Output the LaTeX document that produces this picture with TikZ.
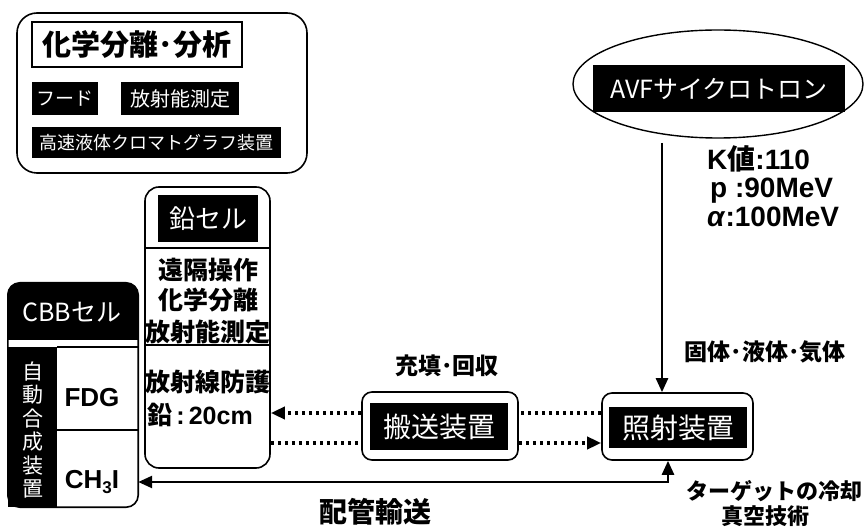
\documentclass[tikz,border=0pt]{standalone}
\usepackage{fontspec}
\setmainfont{Liberation Sans}
\newfontfamily\jp{Noto Sans CJK JP}
\usetikzlibrary{arrows.meta,shapes.geometric}
\newcommand\myfs[1]{\fontsize{#1}{#1}\selectfont}
\begin{document}
\begin{tikzpicture}[x=1pt,y=-1pt,
  box/.style={draw,line width=1.6pt,rounded corners=#1,fill=white,inner sep=0pt},
  blk/.style={fill=black,text=white,inner sep=0pt},
  lbl/.style={inner sep=0pt},
  dotl/.style={line width=3.5pt,dash pattern=on 3.5pt off 3.5pt},
  tip/.style={-{Triangle[length=14pt,width=12pt]}},
  thin/.style={line width=1.2pt}]
\useasboundingbox (0,0) rectangle (865,529);

% chemistry box
\node[box=20, minimum width=290, minimum height=160] (chem) at (162,93) {};
\node[draw, thin, fill=white, minimum width=210, minimum height=45, inner sep=0pt, font=\jp\bfseries\myfs{29}] (title) at (137,44.5) {化学分離･分析};
\node[blk, minimum width=66, minimum height=33, font=\jp\myfs{19}] (hood) at (65,98.5) {フード};
\node[blk, minimum width=118, minimum height=33, font=\jp\myfs{20}] (rad) at (180,98.5) {放射能測定};
\node[blk, minimum width=249, minimum height=31, font=\jp\myfs{18}] (hplc) at (156.5,142.5) {高速液体クロマトグラフ装置};

% cyclotron
\node[draw, ellipse, line width=1.4pt, minimum width=290, minimum height=108, inner sep=0pt] (cyc) at (718,84) {};
\node[blk, minimum width=252, minimum height=47, font=\jp\myfs{25}] (avf) at (719,88.5) {AVFサイクロトロン};
\node[lbl, anchor=base west, font=\bfseries\myfs{28}] (kv) at (707,170) {K{\jp 値}:110};
\node[lbl, anchor=base west, font=\bfseries\myfs{28}] (pv) at (710,198) {p :90MeV};
\node[lbl, anchor=base west, font=\bfseries\myfs{28}] (av) at (707,227) {\textit{α}:100MeV};

% lead cell
\node[box=14, minimum width=125, minimum height=281] (lead) at (207.5,327.5) {};
\node[blk, minimum width=100, minimum height=47, font=\jp\myfs{26}] (leadh) at (208,218.5) {鉛セル};
\coordinate (d1) at (0,248);
\coordinate (d2) at (0,345);
\draw[thin] (lead.west |- d1) -- (lead.east |- d1);
\draw[thin] (lead.west |- d2) -- (lead.east |- d2);
\node[lbl, font=\jp\bfseries\myfs{25}] (l1) at (208,270) {遠隔操作};
\node[lbl, font=\jp\bfseries\myfs{25}] (l2) at (208,300) {化学分離};
\node[lbl, font=\jp\bfseries\myfs{25}] (l3) at (208,332) {放射能測定};
\node[lbl, font=\jp\bfseries\myfs{25}] (l4) at (208,382) {放射線防護};
\node[lbl, anchor=west, font=\bfseries\myfs{25}] (l5) at (147,415) {{\jp 鉛}\,:\,20cm};

% CBB cell
\node[minimum width=130, minimum height=224, inner sep=0pt] (cbb) at (73,395) {};
\begin{scope}
  \clip[rounded corners=12] (cbb.south west) rectangle (cbb.north east);
  \fill (8,283) rectangle (138,340);
\end{scope}
\fill (8,347) rectangle (57,507);
\draw[line width=1.6pt, rounded corners=12] (cbb.south west) rectangle (cbb.north east);
\draw[thin] (57,347) -- (138,347);
\draw[thin] (57,430) -- (138,430);
\node[lbl, text=white, font=\jp\myfs{25}] (cbbh) at (72,312) {CBBセル};
\node[lbl, text=white, align=center, font=\jp\fontsize{21}{23.5}\selectfont] (auto) at (33,430) {自\\動\\合\\成\\装\\置};
\node[lbl, font=\bfseries\myfs{26}] (fdg) at (92,398) {FDG};
\node[lbl, font=\bfseries\myfs{26}] (ch3i) at (92,482) {CH\raisebox{-5pt}{\myfs{17}3}I};

% transport & irradiation
\node[box=10, minimum width=156, minimum height=68] (trans) at (440,426) {};
\node[blk, minimum width=138, minimum height=47, font=\jp\myfs{28}] (transl) at (439,426.5) {搬送装置};
\node[box=10, minimum width=151, minimum height=67] (irr) at (677.5,426.5) {};
\node[blk, minimum width=138, minimum height=41, font=\jp\myfs{28}] (irrl) at (678,427.5) {照射装置};

% connectors
\coordinate (u) at (0,413);
\coordinate (w) at (0,443);
\draw[dotl] (irr.west |- u) -- (trans.east |- u);
\draw[dotl, tip] (trans.west |- u) -- (lead.east |- u);
\draw[dotl] (lead.east |- w) -- (trans.west |- w);
\draw[dotl, tip] (trans.east |- w) -- (irr.west |- w);

\coordinate (cb) at (662,143);
\draw[line width=2.5pt, tip] (cb) -- (cb |- irr.north);
\coordinate (pc) at (668,482);
\draw[line width=2.5pt, {Triangle[length=14pt,width=12pt]}-{Triangle[length=14pt,width=12pt]}] (cbb.east |- pc) -- (pc) -- (pc |- irr.south);

% labels
\node[lbl, font=\jp\bfseries\myfs{23}] (fillr) at (447,366) {充填･回収};
\node[lbl, font=\jp\bfseries\myfs{23}] (phase) at (765,352) {固体･液体･気体};
\node[lbl, font=\jp\bfseries\myfs{22}] (cool) at (774,491) {ターゲットの冷却};
\node[lbl, font=\jp\bfseries\myfs{22}] (vac) at (765,516) {真空技術};
\node[lbl, font=\jp\bfseries\myfs{28}] (pipe) at (375,512) {配管輸送};
\end{tikzpicture}
\end{document}
